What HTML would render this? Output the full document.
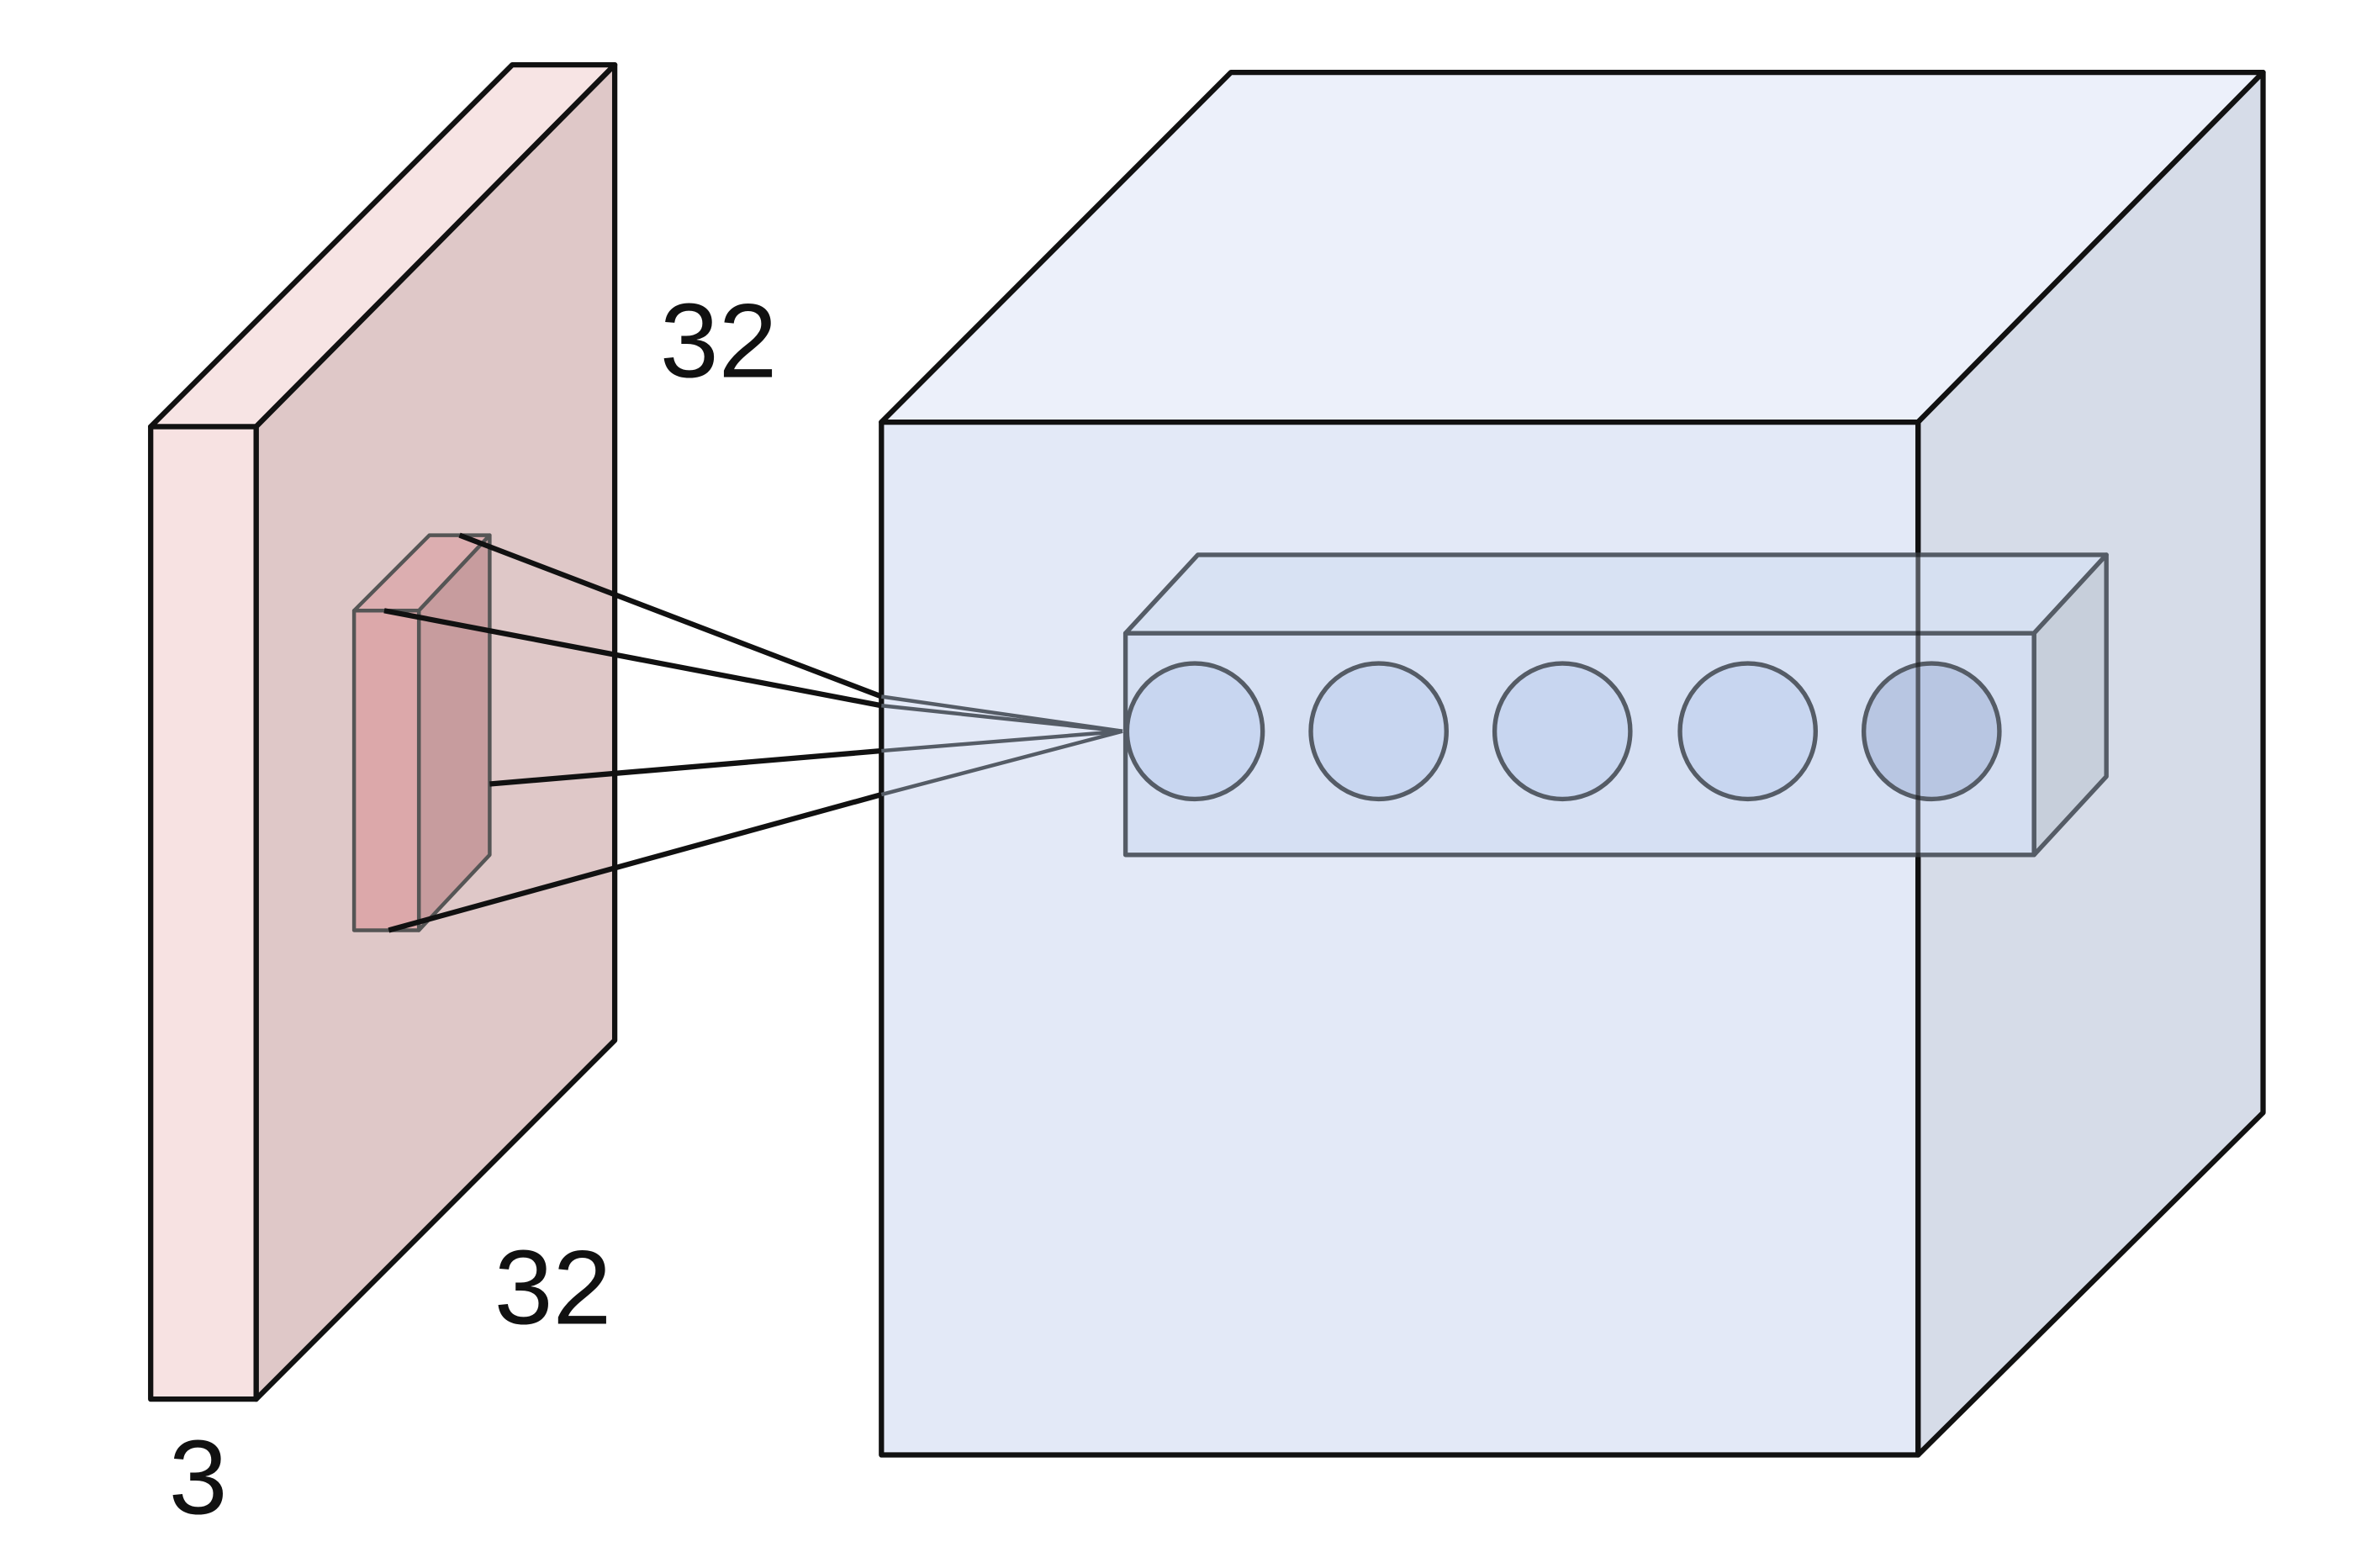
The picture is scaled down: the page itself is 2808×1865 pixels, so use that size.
<!DOCTYPE html>
<html><head><style>html,body{margin:0;padding:0;background:#fff}svg{display:block}</style></head>
<body>
<svg width="2808" height="1865" viewBox="0 0 1567 1040" preserveAspectRatio="none" xmlns="http://www.w3.org/2000/svg">
<g stroke="#111" stroke-width="3.5" stroke-linejoin="round">
<polygon points="100,283 340,43 408,43 170,283" fill="#f7e4e4"/>
<polygon points="170,283 408,43 408,690 170,928" fill="#dfc8c8"/>
<rect x="100" y="283" width="70" height="645" fill="#f7e2e2"/>
</g>
<g stroke="#555" stroke-width="2.5" stroke-linejoin="round">
<polygon points="235,405 285,355 325,355 278,405" fill="#dcaeb0"/>
<polygon points="278,405 325,355 325,567 278,617" fill="#c79c9e"/>
<rect x="235" y="405" width="43" height="212" fill="#dca8aa"/>
</g>
<g stroke="#111" stroke-width="3.5" stroke-linejoin="round">
<polygon points="585,280 817,48 1502,48 1273,280" fill="#ecf0fa"/>
<polygon points="1273,280 1502,48 1502,738 1273,965" fill="#d6dce8"/>
<rect x="585" y="280" width="688" height="685" fill="#e3e9f7"/>
</g>
<g stroke="#111" stroke-width="3.5">
<line x1="305" y1="355" x2="585" y2="462"/>
<line x1="255" y1="405" x2="585" y2="468"/>
<line x1="325" y1="520" x2="585" y2="498"/>
<line x1="258" y1="617" x2="585" y2="527"/>
</g>
<g stroke="#555c66" stroke-width="2.5">
<line x1="585" y1="462" x2="745" y2="485"/>
<line x1="585" y1="468" x2="745" y2="485"/>
<line x1="585" y1="498" x2="745" y2="485"/>
<line x1="585" y1="527" x2="745" y2="485"/>
</g>
<g stroke="#555c66" stroke-width="3" stroke-linejoin="round">
<polygon points="747,420 795,368 1398,368 1350,420" fill="#d6e0f2" fill-opacity="0.85"/>
<polygon points="1350,420 1398,368 1398,515 1350,567" fill="#c4ccd8" fill-opacity="0.85"/>
<rect x="747" y="420" width="603" height="147" fill="#d4def2" fill-opacity="0.85"/>
<ellipse cx="793" cy="485" rx="45" ry="45" fill="#c8d6f0"/>
<ellipse cx="915" cy="485" rx="45" ry="45" fill="#c8d6f0"/>
<ellipse cx="1037" cy="485" rx="45" ry="45" fill="#c8d6f0"/>
<ellipse cx="1160" cy="485" rx="45" ry="45" fill="#c8d6f0"/>
<ellipse cx="1282" cy="485" rx="45" ry="45" fill="#b8c6e2"/>
</g>
<line x1="1273" y1="280" x2="1273" y2="965" stroke="#111" stroke-width="3" stroke-opacity="0.6"/>
<g font-family="Liberation Sans, sans-serif" font-size="70" fill="#111">
<text x="438" y="250">32</text>
<text x="328" y="878">32</text>
<text x="112" y="1004">3</text>
</g>
</svg>
</body></html>
